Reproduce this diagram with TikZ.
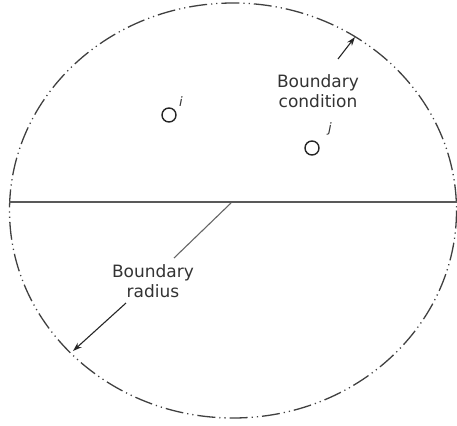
\documentclass[tikz,border=0pt]{standalone}
\usepackage{fontspec}
\setmainfont{DejaVu Sans}
\usetikzlibrary{arrows.meta}
\begin{document}
\begin{tikzpicture}[x=1pt,y=-1pt,
  bound/.style={draw=black!75, line width=1.3pt, dash pattern=on 18pt off 4pt on 1.2pt off 4pt on 1.2pt off 4pt},
  lbl/.style={font=\fontsize{17}{20}\selectfont, text=black!80, align=center, inner sep=0pt},
  pt/.style={circle, draw=black!85, line width=1.4pt, minimum size=14pt, inner sep=0pt},
  sub/.style={font=\fontsize{13}{13}\itshape, text=black!80, inner sep=0pt},
  ptr/.style={draw=black!85, line width=1.1pt, -{Stealth[length=9pt,width=6pt]}}]
\useasboundingbox (0,0) rectangle (457,425);
\draw[bound] (233,210.5) ellipse [x radius=223.5, y radius=207.5];
\coordinate (L) at (9,202);
\coordinate (R) at (457,202);
\draw[black!65, line width=1.2pt] (L) -- (R);
\node[pt] (i) at (169,115) {};
\node[sub] (il) at (181,102) {i};
\node[pt] (j) at (312,148) {};
\node[sub] (jl) at (330,129) {j};
\node[lbl] (bc) at (318,91) {Boundary\\condition};
\coordinate (bcend) at (355,37);
\draw[ptr] (338,59) -- (bcend);
\node[lbl] (br) at (153,281) {Boundary\\radius};
\coordinate (ctr) at (231,203);
\coordinate (brstart) at (174,258);
\draw[black!60, line width=1.1pt] (ctr) -- (brstart);
\coordinate (brend) at (73,351);
\draw[ptr] (126,303) -- (brend);
\end{tikzpicture}
\end{document}
